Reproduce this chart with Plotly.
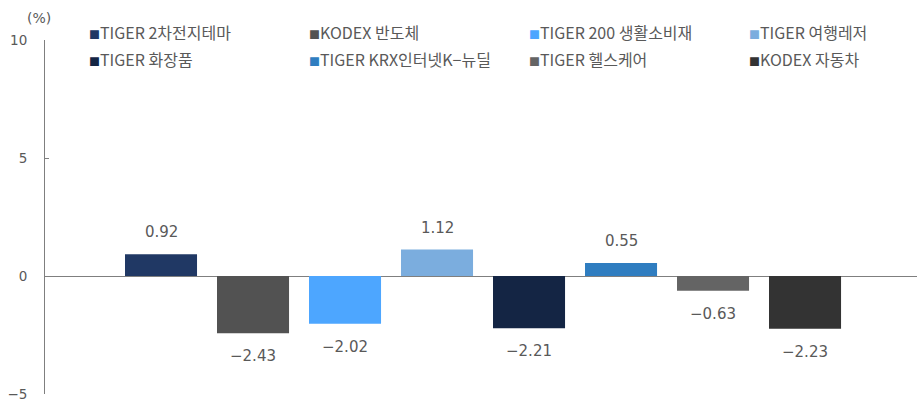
import plotly.graph_objects as go

names = ["TIGER 2차전지테마", "KODEX 반도체", "TIGER 200 생활소비재", "TIGER 여행레저",
         "TIGER 화장품", "TIGER KRX인터넷K−뉴딜", "TIGER 헬스케어", "KODEX 자동차"]
values = [0.92, -2.43, -2.02, 1.12, -2.21, 0.55, -0.63, -2.23]
colors = ["#203864", "#525252", "#4DA6FF", "#7BADDE", "#142544", "#2F7DC0", "#646464", "#333333"]
y_ticks = [-5, 0, 5, 10]

NUMFONT = "DejaVu Sans, Liberation Sans, sans-serif"
LEGFONT = "Noto Sans CJK KR, Liberation Sans, sans-serif"
TXT = "#595959"

fig = go.Figure()
for n, v, c in zip(names, values, colors):
    fig.add_trace(go.Bar(x=[n], y=[v], name=n, marker=dict(color=c, line=dict(width=0)),
                         showlegend=False, hoverinfo="skip"))

def fmt(v):
    s = f"{abs(v):.2f}"
    return s if v >= 0 else "−" + s

anns = []
for n, v in zip(names, values):
    anns.append(dict(x=n, y=v, xref="x", yref="y", text=fmt(v), showarrow=False,
                     yshift=22 if v >= 0 else -23, yanchor="middle",
                     font=dict(family=NUMFONT, size=15, color=TXT)))

# legend built as text rows (2 rows x 4 columns)
L, PW, T, PH = 45, 872, 40, 354
col_x = [87, 307, 527, 747]
row_y = [32, 59]
for i, (n, c) in enumerate(zip(names, colors)):
    r, k = divmod(i, 4)
    anns.append(dict(x=(col_x[k] - L) / PW, y=(T + PH - row_y[r]) / PH, xref="paper", yref="paper",
                     xanchor="left", yanchor="middle", showarrow=False,
                     text=f"<span style='color:{c};font-size:11px'>■</span>{n}",
                     font=dict(family=LEGFONT, size=16, color=TXT)))

anns.append(dict(x=(39 - L) / PW, y=(T + PH - 18) / PH, xref="paper", yref="paper",
                 xanchor="center", yanchor="middle", showarrow=False, text="(%)",
                 font=dict(family=NUMFONT, size=14, color=TXT)))

fig.update_layout(
    width=917, height=401,
    margin=dict(l=L, r=0, t=T, b=401 - T - PH),
    paper_bgcolor="white", plot_bgcolor="white",
    barmode="relative", bargap=0.217,
    annotations=anns,
    xaxis=dict(showticklabels=False, showline=False, showgrid=False, zeroline=False,
               ticks="", range=[-1.261, 8.217], fixedrange=True),
    yaxis=dict(range=[-5, 10], tickvals=y_ticks, showgrid=False,
               showline=True, linecolor="#7f7f7f", linewidth=1,
               ticks="inside", ticklen=4, tickcolor="#7f7f7f",
               zeroline=True, zerolinecolor="#7f7f7f", zerolinewidth=1,
               ticklabelstandoff=14, ticklabeloverflow="allow",
               tickfont=dict(family=NUMFONT, size=13.5, color=TXT)),
    font=dict(family=LEGFONT, color=TXT),
)

fig.write_html("out.html", config={"displayModeBar": False},
               post_script="document.body.style.margin='0';document.body.style.overflow='hidden';")
